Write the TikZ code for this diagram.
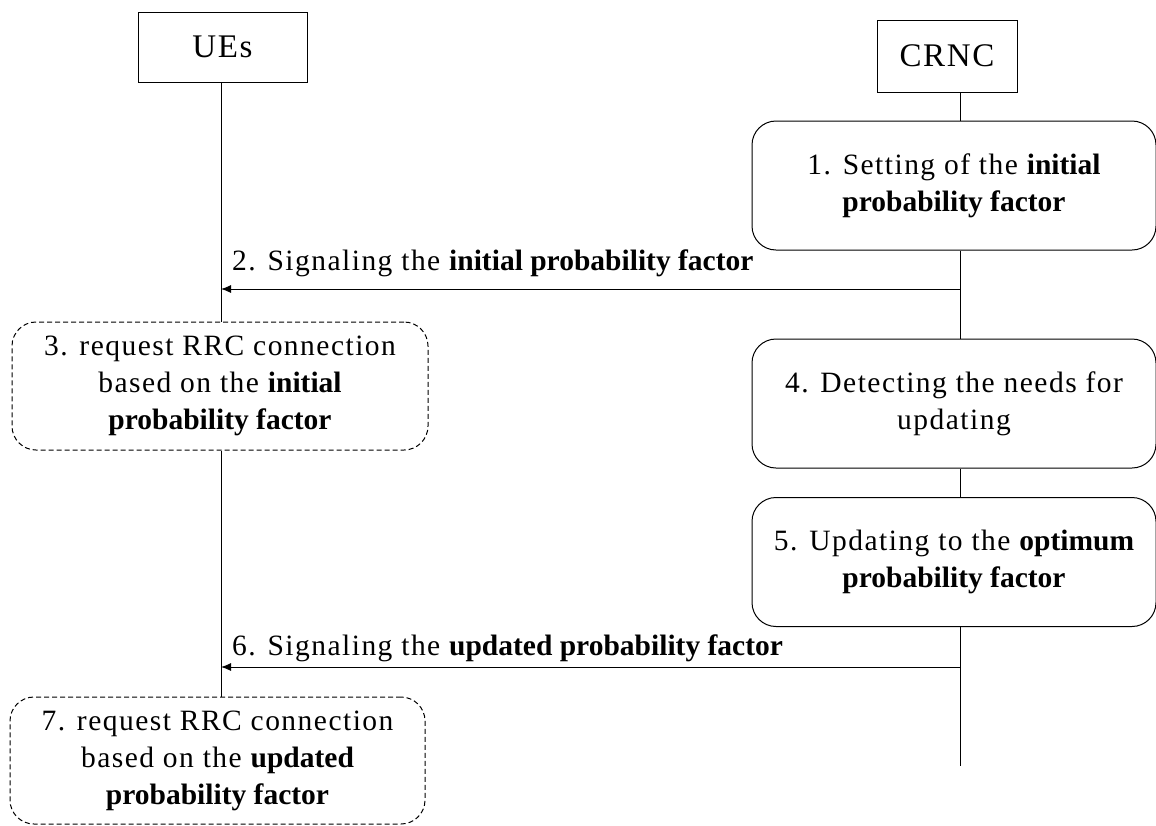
\documentclass[tikz,border=0pt]{standalone}
\usepackage{fontspec}
\setmainfont{Liberation Serif}[LetterSpace=5]
\newfontfamily\bfam{Liberation Serif}[LetterSpace=0]
\usetikzlibrary{arrows.meta}
\newcommand{\bt}[1]{{\bfam\bfseries #1}}
\tikzset{
  every node/.style={font=\fontsize{29.5}{37}\selectfont, inner sep=0pt},
  actor/.style={draw, line width=1pt, minimum height=70pt, align=center, font=\fontsize{33}{37}\selectfont},
  proc/.style={draw, line width=1pt, rounded corners=24pt, minimum width=404pt, minimum height=129pt, align=center},
  opt/.style={draw, line width=1pt, dashed, dash pattern=on 5pt off 3pt, rounded corners=24pt, minimum width=416pt, minimum height=128pt, align=center},
  life/.style={line width=1pt},
  msg/.style={line width=1pt, -{Latex[length=10pt,width=8pt]}},
  lbl/.style={anchor=base west}
}
\begin{document}
\begin{tikzpicture}[x=1pt,y=-1pt]
\useasboundingbox (0,0) rectangle (1156,825);
\node[actor, minimum width=169pt] (ue) at (222.5,47) {UEs};
\node[actor, minimum width=140pt, minimum height=72pt] (crnc) at (947,56) {CRNC};
\node[proc] (b1) at (954,185.5) {1. Setting of the \bt{initial}\\\bt{probability factor}};
\node[opt] (b3) at (220,386) {3. request RRC connection\\based on the \bt{initial}\\\bt{probability factor}};
\node[proc] (b4) at (954,403.5) {4. Detecting the needs for\\updating};
\node[proc] (b5) at (954,562) {5. Updating to the \bt{optimum}\\\bt{probability factor}};
\node[opt, minimum width=415pt, minimum height=127pt] (b7) at (217.5,760.5) {7. request RRC connection\\based on the \bt{updated}\\\bt{probability factor}};
\coordinate (cx) at (960,0);
\coordinate (ux) at (221,0);
\coordinate (cend) at (960,766);
\coordinate (a2s) at (960,289);
\coordinate (a2e) at (221,289);
\coordinate (a6s) at (960,667);
\coordinate (a6e) at (221,667);
% lifelines
\draw[life] (ue.south -| ux) -- (b3.north -| ux);
\draw[life] (b3.south -| ux) -- (b7.north -| ux);
\draw[life] (crnc.south -| cx) -- (b1.north -| cx);
\draw[life] (b1.south -| cx) -- (b4.north -| cx);
\draw[life] (b4.south -| cx) -- (b5.north -| cx);
\draw[life] (b5.south -| cx) -- (cend);
% messages
\draw[msg] (a2s) -- (a2e);
\draw[msg] (a6s) -- (a6e);
\node[lbl] (l2) at (232,270) {2. Signaling the \bt{initial probability factor}};
\node[lbl] (l6) at (232,655) {6. Signaling the \bt{updated probability factor}};
\end{tikzpicture}
\end{document}
